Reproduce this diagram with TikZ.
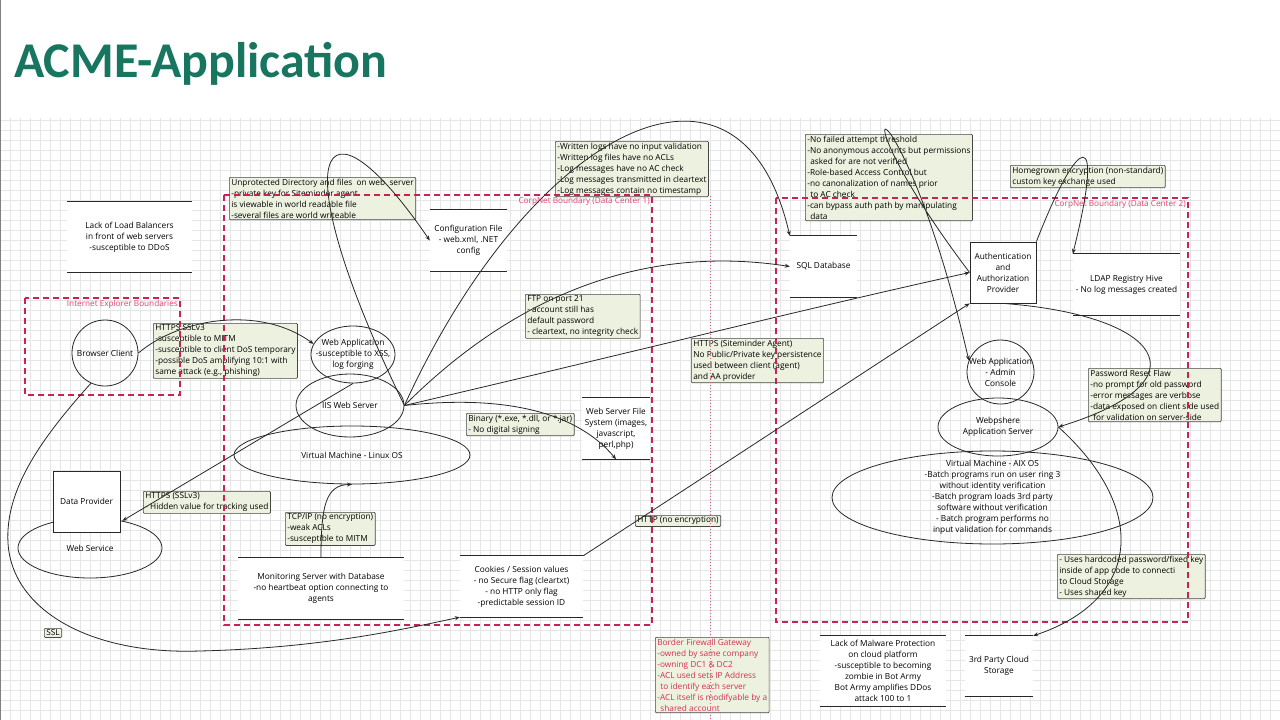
\documentclass[tikz,border=0pt]{standalone}
\usepackage{fontspec}
\setmainfont{Open Sans}
\newfontfamily\titlefont{Carlito}
\usetikzlibrary{shapes.geometric,arrows.meta}
\definecolor{notefill}{RGB}{237,242,224}
\definecolor{noteborder}{RGB}{70,70,70}
\definecolor{bnd}{RGB}{200,35,85}
\definecolor{bndtext}{RGB}{225,70,110}
\definecolor{fwtext}{RGB}{210,50,80}
\definecolor{titlegreen}{RGB}{24,117,96}
\definecolor{gridc}{RGB}{230,230,230}
\definecolor{ln}{RGB}{40,40,40}
\begin{document}
\begin{tikzpicture}[x=1pt,y=-1pt,
  font=\fontsize{8.3}{11}\selectfont,
  gridline/.style={draw=gridc, line width=0.5pt},
  note/.style={draw=noteborder, fill=notefill, rounded corners=1pt, align=left,
    inner xsep=2pt, inner ysep=1.5pt, anchor=north west, line width=0.7pt},
  shapetext/.style={align=center, inner sep=0pt},
  store/.style={fill=white, inner sep=0pt},
  storeline/.style={draw=ln, line width=0.8pt},
  ell/.style={ellipse, draw=ln, inner sep=0pt, line width=0.8pt},
  boxshape/.style={rectangle, draw=ln, fill=white, inner sep=0pt, line width=0.8pt},
  conn/.style={draw=ln, line width=0.8pt, -{Stealth[length=5pt,width=4pt]}},
  bound/.style={draw=bnd, dash pattern=on 6pt off 4pt, line width=1.3pt},
  bndlabel/.style={text=bndtext, inner sep=1pt, font=\fontsize{8.2}{9}\selectfont}]
\useasboundingbox (0,0) rectangle (1280,720);
\fill[white] (0,0) rectangle (1280,720);
% grid
\foreach \x in {0,10,...,1280} \draw[gridline] (\x,118) -- (\x,720);
\foreach \y in {120,130,...,720} \draw[gridline] (0,\y) -- (1280,\y);
\draw[gray, line width=1pt] (0.5,0) -- (0.5,720);
% title
\node[anchor=base west, font=\titlefont\bfseries\fontsize{50}{50}\selectfont, text=titlegreen, inner sep=0pt] (title) at (14,77) {ACME-Application};

% stores
\node[store, minimum width=125pt, minimum height=70pt, label={[shapetext]center:Lack of Load Balancers\\in front of web servers\\-susceptible to DDoS}] (lb) at (129.5,237) {};
\node[store, minimum width=77pt, minimum height=61pt, label={[shapetext]center:Configuration File\\- web.xml, .NET\\config}] (cfg) at (468.5,240.5) {};
\node[store, minimum width=67pt, minimum height=61pt, label={[shapetext]center:SQL Database}] (sql) at (823.5,266.5) {};
\node[store, minimum width=107pt, minimum height=61pt, label={[shapetext]center:LDAP Registry Hive\\- No log messages created}] (ldap) at (1126.5,284.5) {};
\node[store, minimum width=68pt, minimum height=61pt, label={[shapetext]center:Web Server File\\System (images,\\javascript,\\perl,php)}] (wsfs) at (616,428.5) {};
\node[store, minimum width=166pt, minimum height=61pt, label={[shapetext]center:Monitoring Server with Database\\-no heartbeat option connecting to\\agents}] (mon) at (321,588.5) {};
\node[store, minimum width=123pt, minimum height=61pt, label={[shapetext]center:Cookies / Session values\\- no Secure flag (cleartxt)\\- no HTTP only flag\\-predictable session ID}] (cook) at (521.5,586.5) {};
\node[store, minimum width=126pt, minimum height=70pt, label={[shapetext]center:Lack of Malware Protection\\on cloud platform\\-susceptible to becoming\\zombie in Bot Army\\Bot Army amplifies DDos\\attack 100 to 1}] (mal) at (883,671) {};
\node[store, minimum width=68pt, minimum height=60pt, label={[shapetext]center:3rd Party Cloud\\Storage}] (cloud) at (999,666) {};
\foreach \n in {lb,cfg,sql,ldap,wsfs,mon,cook,mal,cloud}
  \draw[storeline] (\n.north west) -- (\n.north east) (\n.south west) -- (\n.south east);

% shapes
\node[ell, minimum width=66pt, minimum height=66pt, label={[shapetext]center:Browser Client}] (browser) at (105,353) {};
\node[ell, minimum width=84pt, minimum height=57pt, label={[shapetext]center:Web Application\\-susceptible to XSS,\\log forging}] (webapp) at (353,354.5) {};
\node[ell, minimum width=108pt, minimum height=63pt, label={[shapetext]center:IIS Web Server}] (iis) at (350,405.5) {};
\node[ell, minimum width=236pt, minimum height=58pt, label={[shapetext]center:Virtual Machine - Linux OS}] (vmlinux) at (352,455) {};
\node[ell, minimum width=144pt, minimum height=60pt, label={[shapetext]center:Web Service}] (websvc) at (90,548) {};
\node[boxshape, minimum width=67pt, minimum height=61pt, label={[shapetext]center:Data Provider}] (dataprov) at (86.5,501.5) {};
\node[boxshape, minimum width=66pt, minimum height=61pt, label={[shapetext]center:Authentication\\and\\Authorization\\Provider}] (auth) at (1003,272.5) {};
\node[ell, minimum width=67pt, minimum height=64pt, label={[shapetext]center:Web Application\\- Admin\\Console}] (admin) at (1000.5,372) {};
\node[ell, minimum width=120pt, minimum height=58pt, label={[shapetext]center:Webpshere\\Application Server}] (wps) at (998,427) {};
\node[ell, minimum width=321pt, minimum height=93pt, label={[shapetext]center:Virtual Machine - AIX OS\\-Batch programs run on user ring 3\\without identity verification\\-Batch program loads 3rd party\\software without verification\\- Batch program performs no\\input validation for commands}] (aix) at (992.5,497.5) {};

% notes
\node[note] (nunprot) at (229,177) {Unprotected Directory and files\ \ on web\ \ server\\-private key for Siteminder agent\\is viewable in world readable file\\-several files are world writeable};
\node[note] (nhttps) at (153,323) {HTTPS SSLv3\\-susceptible to MITM\\-susceptible to client DoS temporary\\-possible DoS amplifying 10:1 with\\same attack (e.g., phishing)};
\node[note] (nlogs) at (555,141) {-Written logs have no input validation\\-Written log files have no ACLs\\-Log messages have no AC check\\-Log messages transmitted in cleartext\\-Log messages contain no timestamp};
\node[note] (nftp) at (525,294) {FTP on port 21\\- account still has\\default password\\- cleartext, no integrity check};
\node[note] (nsite) at (691,338) {HTTPS (Siteminder Agent)\\No Public/Private key persistence\\used between client (agent)\\and AA provider};
\node[note] (nbin) at (466,413) {Binary (*.exe, *.dll, or *.jar)\\- No digital signing};
\node[note] (nhidden) at (143,491) {HTTPS (SSLv3)\\- Hidden value for tracking used};
\node[note] (ntcp) at (285,512) {TCP/IP (no encryption)\\-weak ACLs\\-susceptible to MITM};
\node[note] (nhttp) at (635,515) {HTTP (no encryption)};
\node[note] (nfail) at (805,134) {-No failed attempt threshold\\-No anonymous accounts but permissions\\\hspace*{3pt}asked for are not verified\\-Role-based Access Control but\\-no canonalization of names prior\\\hspace*{3pt}to AC check\\-can bypass auth path by manipulating\\\hspace*{3pt}data};
\node[note] (nhome) at (1010,165) {Homegrown encryption (non-standard)\\custom key exchange used};
\node[note] (npwd) at (1088,368) {Password Reset Flaw\\-no prompt for old password\\-error messages are verbose\\-data exposed on client side used\\\hspace*{3pt}for validation on server-side};
\node[note] (nhard) at (1057,554) {- Uses hardcoded password/fixed key\\inside of app code to connecti\\to Cloud Storage\\- Uses shared key};
\node[note, text=fwtext] (nfw) at (655,637) {Border Firewall Gateway\\-owned by same company\\-owning DC1 \& DC2\\-ACL used sets IP Address\\\hspace*{3pt}to identify each server\\-ACL itself is modifyable by a\\\hspace*{3pt}shared account};
\node[note] (nssl) at (44,628) {SSL};

% boundaries
\draw[bound] (25,298) rectangle (180,395);
\draw[bound] (224,195) rectangle (652,625);
\draw[bound] (776,198) rectangle (1188,622);
\draw[draw=bnd!70, dotted, line width=1pt] (710,196) -- (710,720);
\node[bndlabel, anchor=north east] (lie) at (179,299) {Internet Explorer Boundaries};
\node[bndlabel, anchor=north east] (ldc1) at (651,196) {CorpNet Boundary (Data Center 1)};
\node[bndlabel, anchor=north east] (ldc2) at (1187,199) {CorpNet Boundary (Data Center 2)};

% connectors
\draw[conn] (browser.east) .. controls (180,318) and (260,305) .. (webapp.165);
\draw[conn] (browser.245) .. controls (40,440) and (5,490) .. (8,543) .. controls (12,610) and (90,655) .. (200,651) .. controls (320,648) and (400,630) .. (cook.south west);
\draw[conn] (webapp.south) -- (websvc.40);
\draw[conn] (mon.north) .. controls (321,505) and (326,485) .. (vmlinux.south);
\draw[conn] (iis.east) .. controls (280,150) and (320,80) .. (cfg.west);
\draw[conn] (iis.east) .. controls (530,130) and (740,20) .. (sql.north west);
\draw[conn] (iis.east) .. controls (520,290) and (650,245) .. (sql.west);
\draw[conn] (iis.east) .. controls (600,360) and (800,310) .. (auth.west);
\draw[conn] (iis.east) .. controls (500,395) and (575,410) .. (wsfs.south);
\draw[conn] (cook.north east) -- (auth.south west);
\draw[conn] (auth.west) .. controls (820,75) and (900,62) .. (admin.160);
\draw[conn] (auth.north east) .. controls (1080,130) and (1105,125) .. (ldap.north west);
\draw[conn] (auth.south) .. controls (1160,315) and (1210,380) .. (wps.east);
\draw[conn] (wps.east) .. controls (1150,510) and (1140,600) .. (cloud.north east);
\end{tikzpicture}
\end{document}
